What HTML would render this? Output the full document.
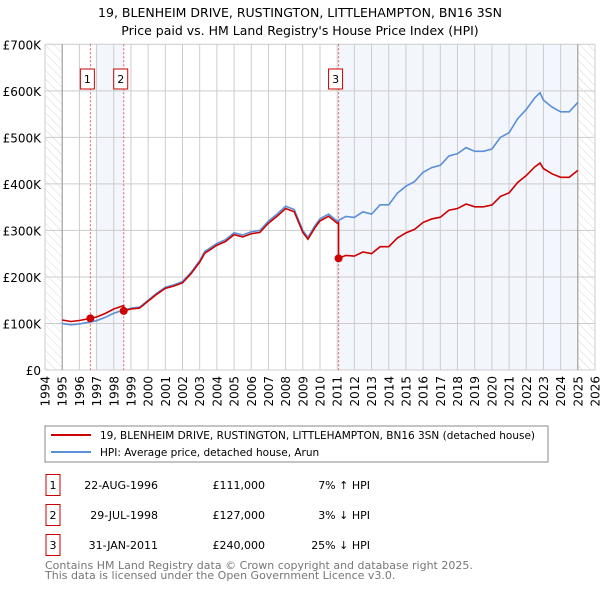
<!DOCTYPE html>
<html><head><meta charset="utf-8"><style>
body{margin:0;background:#fff;font-family:"DejaVu Sans","Liberation Sans",sans-serif;}
svg text{font-family:"DejaVu Sans","Liberation Sans",sans-serif;}
</style></head><body>
<svg id="c" width="600" height="590" xmlns="http://www.w3.org/2000/svg">
<defs><pattern id="hatch" width="6" height="6" patternUnits="userSpaceOnUse" patternTransform="rotate(-45)"><line x1="0" y1="0" x2="0" y2="6" stroke="#d8d8d8" stroke-width="1"/></pattern></defs>
<text x="300" y="17" text-anchor="middle" font-size="12.5" fill="#000">19, BLENHEIM DRIVE, RUSTINGTON, LITTLEHAMPTON, BN16 3SN</text>
<text x="300" y="35" text-anchor="middle" font-size="12.5" fill="#000">Price paid vs. HM Land Registry's House Price Index (HPI)</text>
<g id="plot"></g>
<rect x="45" y="426" width="503" height="36" fill="none" stroke="#888"/>
<line x1="51" y1="435" x2="91" y2="435" stroke="#cc0000" stroke-width="2"/>
<text x="100" y="439" font-size="10.5">19, BLENHEIM DRIVE, RUSTINGTON, LITTLEHAMPTON, BN16 3SN (detached house)</text>
<line x1="51" y1="452" x2="91" y2="452" stroke="#5b8fd6" stroke-width="2"/>
<text x="100" y="456" font-size="10.5">HPI: Average price, detached house, Arun</text>
<g id="tbl" font-size="11"></g>
<text x="45" y="569" font-size="11" fill="#777">Contains HM Land Registry data © Crown copyright and database right 2025.</text>
<text x="45" y="579" font-size="11" fill="#777">This data is licensed under the Open Government Licence v3.0.</text>
</svg>
<script>
const hpiYears=[1995,1995.5,1996,1996.6,1997,1997.5,1998,1998.5,1999,1999.5,2000,2000.5,2001,2001.5,2002,2002.5,2003,2003.3,2003.6,2004,2004.5,2005,2005.5,2006,2006.5,2007,2007.5,2008,2008.5,2009,2009.3,2009.7,2010,2010.5,2011,2011.5,2012,2012.5,2013,2013.5,2014,2014.5,2015,2015.5,2016,2016.5,2017,2017.5,2018,2018.5,2019,2019.5,2020,2020.5,2021,2021.5,2022,2022.5,2022.8,2023,2023.5,2024,2024.5,2025];
const hpiValues=[100,97,99,103,106,113,122,128,133,135,150,165,178,183,190,210,235,255,262,272,280,295,290,297,300,320,335,352,345,300,285,310,325,335,320,330,328,340,335,355,355,380,395,405,425,435,440,460,465,478,470,470,475,500,510,540,560,585,596,580,565,555,555,575];
const saleDates=[1996.64,1998.58,2011.08];
const salePrices=[111,127,240];
const saleLabels=["1","2","3"];
const saleDateText=["22-AUG-1996","29-JUL-1998","31-JAN-2011"];
const salePriceText=["£111,000","£127,000","£240,000"];
const saleHpiText=["7% ↑ HPI","3% ↓ HPI","25% ↓ HPI"];
const yTicks=[0,100,200,300,400,500,600,700];
const yTickLabels=["£0","£100K","£200K","£300K","£400K","£500K","£600K","£700K"];
const xTicks=[];for(let y=1994;y<=2026;y++)xTicks.push(y);

const NS="http://www.w3.org/2000/svg";
const X0=45,X1=595,Y0=370,Y1=44.3;
const xs=t=>X0+(t-1994)/(2026-1994)*(X1-X0);
const ys=v=>Y0-v/700*(Y0-Y1);
const P=document.getElementById('plot');
function mk(tag,at,par){const e=document.createElementNS(NS,tag);for(const k in at)e.setAttribute(k,at[k]);(par||P).appendChild(e);return e;}
function hpiAt(t){for(let i=0;i<hpiYears.length-1;i++){if(t<=hpiYears[i+1]){const f=(t-hpiYears[i])/(hpiYears[i+1]-hpiYears[i]);return hpiValues[i]+f*(hpiValues[i+1]-hpiValues[i]);}}return hpiValues[hpiValues.length-1];}
let r;
r=mk('rect',{x:xs(1997),y:Y1,width:xs(saleDates[1])-xs(1997),height:Y0-Y1,fill:'#f3f6fd'});

r=mk('rect',{x:xs(saleDates[2]),y:Y1,width:xs(2025)-xs(saleDates[2]),height:Y0-Y1,fill:'#f3f6fd'});

r=mk('rect',{x:X0,y:Y1,width:xs(1995)-X0,height:Y0-Y1,fill:'url(#hatch)'});

r=mk('rect',{x:xs(2025),y:Y1,width:X1-xs(2025),height:Y0-Y1,fill:'url(#hatch)'});

yTicks.forEach((v,i)=>{let l=mk('line',{x1:X0,x2:X1,y1:ys(v),y2:ys(v),stroke:'#ccc'});

let t=mk('text',{x:X0-4,y:ys(v)+5,'text-anchor':'end','font-size':'12'});t.textContent=yTickLabels[i];
});
xTicks.forEach(y=>{let l=mk('line',{x1:xs(y),x2:xs(y),y1:Y1,y2:Y0,stroke:'#ccc'});

let t=mk('text',{x:0,y:0,'text-anchor':'end','font-size':'12',transform:`translate(${xs(y)+4.5},${Y0+6}) rotate(-90)`});t.textContent=y;
});
let a=mk('line',{x1:xs(1995),x2:xs(1995),y1:Y1,y2:Y0,stroke:'#999'});
a=mk('line',{x1:xs(2025),x2:xs(2025),y1:Y1,y2:Y0,stroke:'#999'});
saleDates.forEach((d,i)=>{let l=mk('line',{x1:xs(d),x2:xs(d),y1:Y1,y2:Y0,stroke:'#e06060','stroke-dasharray':'2,2'});

let b=mk('rect',{x:xs(d)-10,y:69,width:14,height:20,fill:'#fff',stroke:'#cc0000'});

let t=mk('text',{x:xs(d)-3,y:83,'text-anchor':'middle','font-size':'11'});t.textContent=saleLabels[i];
});
let hp=mk('polyline',{points:hpiYears.map((t,i)=>xs(t)+','+ys(hpiValues[i])).join(' '),fill:'none',stroke:'#5b8fd6','stroke-width':'1.6'});

const ratios=saleDates.map((d,i)=>salePrices[i]/hpiAt(d));
let pts=[];
function ratioAt(t){let r=ratios[0];for(let i=0;i<saleDates.length;i++)if(t>=saleDates[i])r=ratios[i];return r;}
let times=hpiYears.slice();saleDates.forEach(d=>{times.push(d-0.001);times.push(d);});times.sort((a,b)=>a-b);
times.forEach(t=>pts.push(xs(t)+','+ys(hpiAt(t)*ratioAt(t))));
let pl=mk('polyline',{points:pts.join(' '),fill:'none',stroke:'#cc0000','stroke-width':'1.6'});

saleDates.forEach((d,i)=>{let c=mk('circle',{cx:xs(d),cy:ys(salePrices[i]),r:4,fill:'#cc0000'});
});
const T=document.getElementById('tbl');
const rowY=[485,515,545];
saleLabels.forEach((s,i)=>{let y=rowY[i];
let b=mk('rect',{x:46,y:y-10.5,width:14,height:21,fill:'none',stroke:'#cc0000'},T);

[[53,s,'middle'],[158,saleDateText[i],'end'],[265,salePriceText[i],'end'],[370,saleHpiText[i],'end']].forEach(([x,txt,an])=>{
let t=mk('text',{x:x,y:y+4,'text-anchor':an},T);t.textContent=txt;
});});
</script>
</body></html>
